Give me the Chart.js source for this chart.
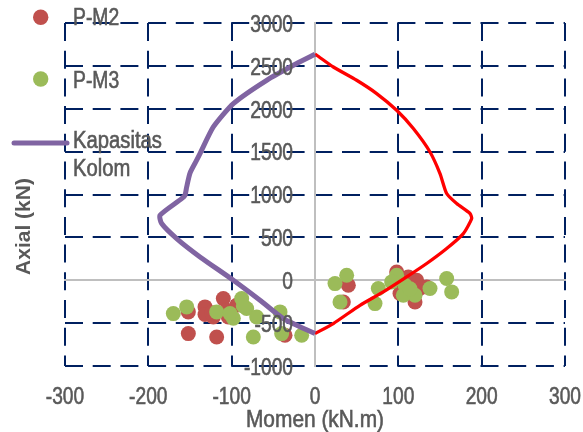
<!DOCTYPE html>
<html>
<head>
<meta charset="utf-8">
<script src="https://cdn.jsdelivr.net/npm/chart.js@4.4.1/dist/chart.umd.min.js"></script>
<style>
  html, body { margin: 0; padding: 0; background: #ffffff; }
  #wrap { width: 583px; height: 432px; position: relative; }
</style>
</head>
<body>
<div id="wrap"><canvas id="chart" width="583" height="432"></canvas></div>
<script>
// Tick labels
const xTicks = [-300, -200, -100, 0, 100, 200, 300];
const yTicks = [-1000, -500, 0, 500, 1000, 1500, 2000, 2500, 3000];

// P-M2 (red points)
const pm2Moment = [-152, -132, -110, -122, -152, -118, -104, -36, -94, -132, -106, -124,
                   40, 34, 98, 122, 134, 120, 102, 126, 112, 108, 116];
const pm2Axial  = [-369, -311, -214, -428, -622, -661, -428, -641, -291, -400, -350, -380,
                   -58, -253, 97, 0, -78, -253, -155, -94, 39, -20, -120];

// P-M3 (green points)
const pm3Moment = [-170, -154, -118, -88, -82, -98, -70, -74, -42, -40, -16, -102, -86,
                   24, 38, 30, 76, 72, 98, 108, 106, 120, 138, 158, 164, 92, 114];
const pm3Axial  = [-389, -311, -369, -214, -330, -443, -428, -661, -369, -622, -641, -389, -300,
                   -39, 58, -253, -97, -272, 58, -58, -175, -175, -97, 20, -136, -19, -100];

// Kapasitas Kolom (purple, negative moment side)
const kapMoment = [0, -22, -58, -98, -122, -138, -142, -150, -154, -156, -160, -186, -184,
                   -166, -138, -98, -66, -38, 0];
const kapAxial  = [2635, 2527, 2332, 2060, 1788, 1477, 1400, 1250, 1088, 991, 952, 758, 661,
                   486, 272, 0, -233, -447, -622];

// Kapasitas Kolom (red line, positive moment side)
const kapPosMoment = [0, 2, 22, 50, 74, 98, 118, 138, 150, 158, 170, 186, 188, 178, 158,
                      134, 110, 82, 54, 22, 0];
const kapPosAxial  = [2635, 2624, 2487, 2332, 2177, 1982, 1769, 1496, 1244, 1011, 894, 778,
                      719, 544, 370, 195, 39, -136, -292, -505, -622];

const toPoints = (xs, ys) => xs.map((x, i) => ({ x: x, y: ys[i] }));

const sans = "'Liberation Sans', Arial, sans-serif";
const labelColor = "#595959";
const gridColor = "#002060";
const zeroColor = "#BFBFBF";
const dash = [18, 9.7];

// text squeezed sideways to look like the narrow font of the original
function narrowText(ctx, text, x, y, align, sx) {
    ctx.save();
    ctx.translate(x, y);
    ctx.scale(sx, 1);
    ctx.textAlign = align;
    ctx.fillText(text, 0, 0);
    ctx.strokeText(text, 0, 0);
    ctx.restore();
}

// tick labels, titles and legend drawn on top of the grid
const overlayPlugin = {
    id: "overlay",
    afterDraw(chart) {
        const ctx = chart.ctx;
        const ds = chart.data.datasets;
        const xs = chart.scales.x;
        const ys = chart.scales.y;
        const axisX = xs.getPixelForValue(0);
        ctx.save();
        ctx.fillStyle = labelColor;
        ctx.strokeStyle = labelColor;
        ctx.lineWidth = 0.6;
        ctx.textBaseline = "alphabetic";

        // tick labels
        ctx.font = "24px " + sans;
        xs.ticks.forEach(t => narrowText(ctx, String(t.value), xs.getPixelForValue(t.value), 404, "center", 0.8));
        ys.ticks.forEach(t => narrowText(ctx, String(t.value), axisX - 22, ys.getPixelForValue(t.value) + 8.8, "right", 0.8));

        // x title
        narrowText(ctx, "Momen (kN.m)", (chart.chartArea.left + chart.chartArea.right) / 2, 426.5, "center", 0.87);

        // legend
        ctx.font = "23px " + sans;
        ctx.beginPath();
        ctx.fillStyle = ds[2].backgroundColor;
        ctx.arc(40.7, 17.3, 7.7, 0, Math.PI * 2);
        ctx.fill();
        ctx.fillStyle = labelColor;
        narrowText(ctx, ds[2].label, 73, 25, "left", 0.84);

        ctx.beginPath();
        ctx.fillStyle = ds[3].backgroundColor;
        ctx.arc(40.7, 79, 7.7, 0, Math.PI * 2);
        ctx.fill();
        ctx.fillStyle = labelColor;
        narrowText(ctx, ds[3].label, 73, 88, "left", 0.84);

        ctx.save();
        ctx.beginPath();
        ctx.strokeStyle = ds[0].borderColor;
        ctx.lineWidth = 5;
        ctx.lineCap = "round";
        ctx.moveTo(14, 143);
        ctx.lineTo(67, 143);
        ctx.stroke();
        ctx.restore();
        const words = ds[0].label.split(" ");
        narrowText(ctx, words[0], 73, 148.3, "left", 0.88);
        narrowText(ctx, words[1], 73, 175.7, "left", 0.88);

        // y title
        ctx.translate(24.5, 226.5);
        ctx.rotate(-Math.PI / 2);
        ctx.textAlign = "center";
        ctx.textBaseline = "middle";
        ctx.font = "bold 21px " + sans;
        ctx.fillText("Axial (kN)", 0, 0);
        ctx.restore();
    }
};

new Chart(document.getElementById("chart"), {
    type: "scatter",
    data: {
        datasets: [
            {
                label: "Kapasitas Kolom",
                type: "line",
                data: toPoints(kapMoment, kapAxial),
                borderColor: "#8064A2",
                borderWidth: 5,
                pointRadius: 0,
                fill: false,
                tension: 0.2,
                order: 0
            },
            {
                label: "Kapasitas Kolom (+)",
                type: "line",
                data: toPoints(kapPosMoment, kapPosAxial),
                borderColor: "#FF0000",
                borderWidth: 3.3,
                pointRadius: 0,
                fill: false,
                tension: 0.2,
                order: 1
            },
            {
                label: "P-M2",
                data: toPoints(pm2Moment, pm2Axial),
                backgroundColor: "#C0504D",
                borderWidth: 0,
                pointRadius: 7.5,
                order: 3
            },
            {
                label: "P-M3",
                data: toPoints(pm3Moment, pm3Axial),
                backgroundColor: "#9BBB59",
                borderWidth: 0,
                pointRadius: 7.5,
                order: 2
            }
        ]
    },
    options: {
        responsive: false,
        animation: false,
        layout: { padding: { left: 65, right: 18, top: 23, bottom: 66 } },
        plugins: {
            legend: { display: false },
            tooltip: { enabled: false }
        },
        scales: {
            x: {
                type: "linear",
                position: "bottom",
                min: xTicks[0],
                max: xTicks[xTicks.length - 1],
                afterBuildTicks: (scale) => { scale.ticks = xTicks.map(v => ({ value: v })); },
                ticks: { display: false },
                grid: {
                    color: (c) => (c.tick && c.tick.value === 0 ? "rgba(0,0,0,0)" : gridColor),
                    lineWidth: 2,
                    drawTicks: false
                },
                border: { display: false, dash: dash }
            },
            x0: {
                axis: "x",
                type: "linear",
                position: { y: 0 },
                min: xTicks[0],
                max: xTicks[xTicks.length - 1],
                ticks: { display: false },
                grid: { display: false, drawTicks: false },
                border: { display: true, color: zeroColor, width: 2 }
            },
            y: {
                type: "linear",
                position: { x: 0 },
                min: yTicks[0],
                max: yTicks[yTicks.length - 1],
                afterBuildTicks: (scale) => { scale.ticks = yTicks.map(v => ({ value: v })); },
                ticks: { display: false },
                grid: {
                    color: (c) => (c.tick && c.tick.value === 0 ? "rgba(0,0,0,0)" : gridColor),
                    lineWidth: 2,
                    drawTicks: false
                },
                border: { display: true, color: zeroColor, width: 2, dash: dash }
            }
        }
    },
    plugins: [overlayPlugin]
});
</script>
</body>
</html>
